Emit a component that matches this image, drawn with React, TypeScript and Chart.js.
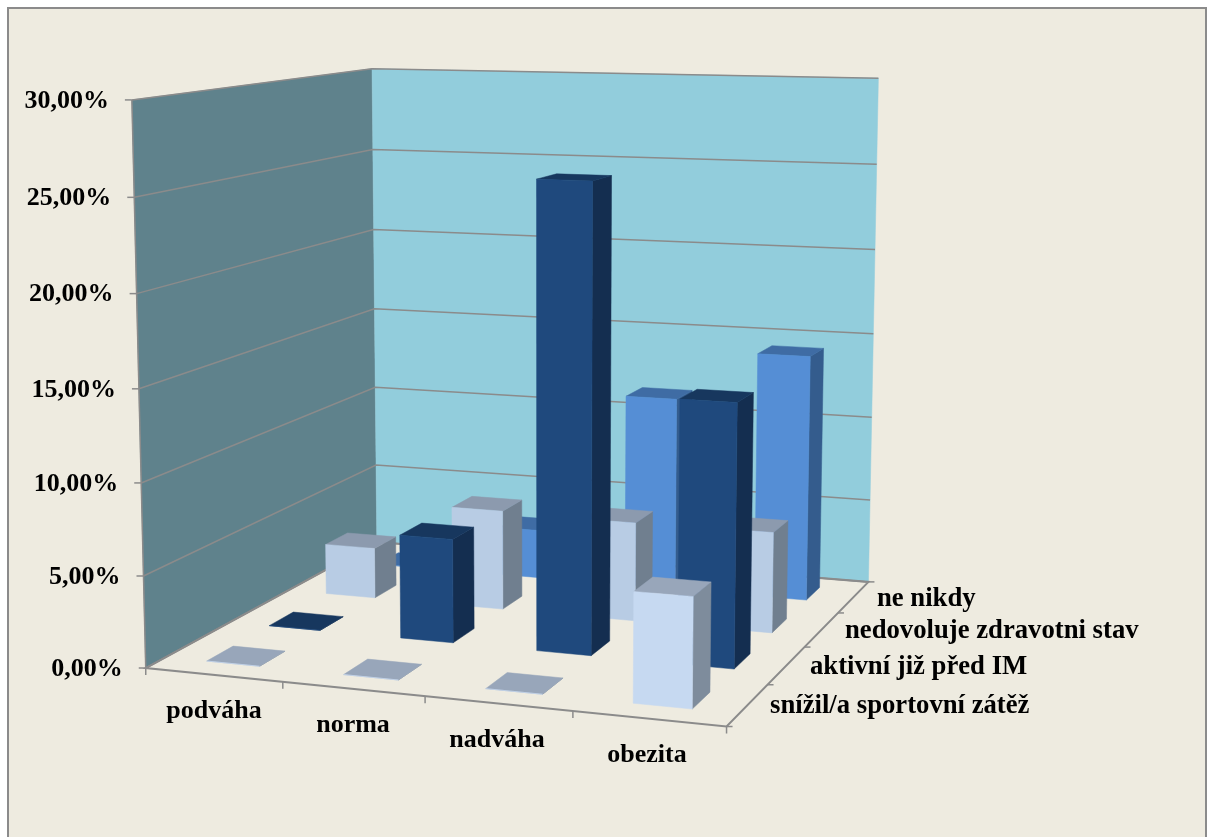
import { useEffect, useRef } from "react";
import { BarController, BarElement, CategoryScale, Chart, LinearScale } from "chart.js";

// Share of respondents (%) per BMI category, one array per depth row, front row first.
const categories = ["podváha", "norma", "nadváha", "obezita"];
const seriesNames = ["snížil/a sportovní zátěž", "aktivní již před IM", "nedovoluje zdravotni stav", "ne nikdy"];
const reducedLoad = [0, 0, 0, 5.8];
const activeBefore = [0, 5.8, 25.6, 14.3];
const healthForbids = [2.95, 5.75, 5.65, 5.7];
const neverActive = [0, 2.9, 11.4, 14.35];
const axisMax = 30;
const axisStep = 5;

// Face shades per row: front, top, side.
const rowShades = [
  ["#c6d9f1", "#98a6ba", "#7e8c9c"],
  ["#1f497d", "#17375e", "#142e50"],
  ["#b8cce4", "#8c9aae", "#707f8f"],
  ["#558ed5", "#3f6ca4", "#345c8d"],
];

const PAPER = "#eeebe0";
const RULE = "#8b8b8b";
const SIDE_WALL = "#5f828c";
const BACK_WALL = "#92cddc";
const FONT = "bold 26px 'Liberation Serif'";
const SERIES_FONT = "bold 26.7px 'Liberation Serif'";

const categoryLabelSpots = [
  [214, 718],
  [353, 732],
  [497, 747],
  [647, 762],
];
const seriesLabelSpots = [
  [770, 713],
  [810, 674],
  [845, 638],
  [877, 606],
];

// Reference points of the perspective camera: [column, row, height 0..1, screen x, screen y].
const cameraAnchors = [
  [0, 0, 0, 147, 667],
  [1, 0, 0, 283, 683],
  [2, 0, 0, 424, 697],
  [3, 0, 0, 571, 712],
  [4, 0, 0, 724, 728],
  [4, 1, 0, 770, 683],
  [4, 2, 0, 807, 646],
  [4, 3, 0, 840, 612],
  [4, 4, 0, 867, 581],
  [0, 4, 0, 377, 544],
  [0, 0, 1, 132, 100],
  [0, 4, 1, 372, 68.5],
  [4, 4, 1, 879, 78],
  [4, 4, 5 / 6, 877, 165],
  [4, 4, 2 / 3, 875, 250],
  [4, 4, 1 / 2, 873, 334],
  [4, 4, 1 / 3, 871, 418],
  [4, 4, 1 / 6, 869, 500],
  [0, 4, 5 / 6, 372.5, 149],
  [0, 4, 2 / 3, 373, 229],
  [0, 4, 1 / 6, 376.5, 465],
  [0, 0, 5 / 6, 135, 198],
  [0, 0, 1 / 3, 141, 482],
  [0, 0, 1 / 6, 143, 575],
];

function solveCamera(anchors: number[][]) {
  const n = 11;
  const ata = Array.from({ length: n }, () => new Array(n + 1).fill(0));
  const addRow = (row: number[], rhs: number) => {
    for (let i = 0; i < n; i++) {
      for (let j = 0; j < n; j++) ata[i][j] += row[i] * row[j];
      ata[i][n] += row[i] * rhs;
    }
  };
  for (const [u, v, h, px, py] of anchors) {
    const x = px / 1000;
    const y = py / 1000;
    addRow([u, v, h, 1, 0, 0, 0, 0, -x * u, -x * v, -x * h], x);
    addRow([0, 0, 0, 0, u, v, h, 1, -y * u, -y * v, -y * h], y);
  }
  for (let c = 0; c < n; c++) {
    let best = c;
    for (let r = c + 1; r < n; r++) if (Math.abs(ata[r][c]) > Math.abs(ata[best][c])) best = r;
    [ata[c], ata[best]] = [ata[best], ata[c]];
    for (let r = 0; r < n; r++) {
      if (r === c) continue;
      const f = ata[r][c] / ata[c][c];
      for (let k = c; k <= n; k++) ata[r][k] -= f * ata[c][k];
    }
  }
  return ata.map((row, i) => row[n] / row[i]);
}

const cam = solveCamera(cameraAnchors);

function project(u: number, v: number, h: number): [number, number] {
  const w = cam[8] * u + cam[9] * v + cam[10] * h + 1;
  return [
    (1000 * (cam[0] * u + cam[1] * v + cam[2] * h + cam[3])) / w,
    (1000 * (cam[4] * u + cam[5] * v + cam[6] * h + cam[7])) / w,
  ];
}

// Fraction of the value axis that a value reaches.
function heightOf(scale: any, value: number) {
  return (scale.bottom - scale.getPixelForValue(value)) / (scale.bottom - scale.top);
}

function fillQuad(ctx: CanvasRenderingContext2D, pts: [number, number][], color: string) {
  ctx.beginPath();
  pts.forEach(([x, y], i) => (i ? ctx.lineTo(x, y) : ctx.moveTo(x, y)));
  ctx.closePath();
  ctx.fillStyle = color;
  ctx.strokeStyle = color;
  ctx.lineWidth = 0.5;
  ctx.fill();
  ctx.stroke();
}

function strokeLine(ctx: CanvasRenderingContext2D, pts: [number, number][], width = 1.5) {
  ctx.beginPath();
  pts.forEach(([x, y], i) => (i ? ctx.lineTo(x, y) : ctx.moveTo(x, y)));
  ctx.strokeStyle = RULE;
  ctx.lineWidth = width;
  ctx.stroke();
}

const BAR_HALF_WIDTH = 0.195;
const BAR_HALF_DEPTH = 0.205;

// Bar controller that renders each value as a cuboid standing on the perspective floor.
class Cuboid3DController extends BarController {
  static id = "cuboid3d";
  static defaults = { ...BarController.defaults };
  static overrides = BarController.overrides;

  draw() {
    const chart = this.chart;
    const ctx = chart.ctx;
    const meta = this._cachedMeta;
    const xScale = chart.scales.x;
    const yScale = chart.scales.y as any;
    const row = this.index + 0.5;
    const [front, top, side] = rowShades[this.index];
    meta.data.forEach((_: unknown, i: number) => {
      const parsed = meta._parsed[i] as { x: number; y: number };
      const col = (categories.length * (xScale.getPixelForValue(parsed.x) - xScale.left)) / xScale.width;
      const h = heightOf(yScale, parsed.y);
      const u0 = col - BAR_HALF_WIDTH;
      const u1 = col + BAR_HALF_WIDTH;
      const v0 = row - BAR_HALF_DEPTH;
      const v1 = row + BAR_HALF_DEPTH;
      ctx.save();
      fillQuad(ctx, [project(u1, v0, 0), project(u1, v1, 0), project(u1, v1, h), project(u1, v0, h)], side);
      fillQuad(ctx, [project(u0, v0, h), project(u1, v0, h), project(u1, v1, h), project(u0, v1, h)], top);
      fillQuad(ctx, [project(u0, v0, 0), project(u1, v0, 0), project(u1, v0, h), project(u0, v0, h)], front);
      ctx.restore();
    });
  }
}

const roomPlugin = {
  id: "room",
  beforeDatasetsDraw(chart: any) {
    const ctx: CanvasRenderingContext2D = chart.ctx;
    const y = chart.scales.y;
    const nCols = categories.length;
    const nRows = seriesNames.length;
    ctx.save();

    // Page panel with its thin frame.
    ctx.fillStyle = PAPER;
    ctx.fillRect(8, 8, 1198, 840);
    ctx.strokeStyle = RULE;
    ctx.lineWidth = 2;
    ctx.strokeRect(8, 8, 1198, 840);

    // Walls.
    fillQuad(ctx, [project(0, 0, 0), project(0, nRows, 0), project(0, nRows, 1), project(0, 0, 1)], SIDE_WALL);
    fillQuad(ctx, [project(0, nRows, 0), project(nCols, nRows, 0), project(nCols, nRows, 1), project(0, nRows, 1)], BACK_WALL);

    // Grid lines that run round both walls, with the value labels at the front edge.
    ctx.font = FONT;
    ctx.textAlign = "right";
    ctx.textBaseline = "middle";
    for (const tick of y.ticks) {
      const h = heightOf(y, tick.value);
      strokeLine(ctx, [project(0, 0, h), project(0, nRows, h), project(nCols, nRows, h)]);
      const [tx, ty] = project(0, 0, h);
      strokeLine(ctx, [[tx - 7, ty], [tx, ty]]);
      ctx.fillStyle = "#000";
      ctx.fillText(tick.label, tx - 23, ty + 1);
    }
    strokeLine(ctx, [project(0, 0, 1), project(0, 0, 0)]);

    // Floor edges and their tick marks.
    strokeLine(ctx, [project(0, nRows, 0), project(0, 0, 0), project(nCols, 0, 0), project(nCols, nRows, 0), project(0, nRows, 0)], 2);
    for (let c = 0; c <= nCols; c++) {
      const [px, py] = project(c, 0, 0);
      strokeLine(ctx, [[px, py], [px, py + 7]]);
    }
    for (let r = 0; r <= nRows; r++) {
      const [px, py] = project(nCols, r, 0);
      strokeLine(ctx, [[px, py], [px + 6, py]]);
    }

    // Axis captions.
    ctx.fillStyle = "#000";
    ctx.textBaseline = "alphabetic";
    ctx.textAlign = "center";
    categories.forEach((name, i) => ctx.fillText(name, categoryLabelSpots[i][0], categoryLabelSpots[i][1]));
    ctx.textAlign = "left";
    ctx.font = SERIES_FONT;
    seriesNames.forEach((name, i) => ctx.fillText(name, seriesLabelSpots[i][0], seriesLabelSpots[i][1]));
    ctx.restore();
  },
};

Chart.register(BarElement, CategoryScale, LinearScale, Cuboid3DController);

export default function App() {
  const ref = useRef<HTMLCanvasElement>(null);
  useEffect(() => {
    const series = [reducedLoad, activeBefore, healthForbids, neverActive];
    const chart = new Chart(ref.current!, {
      type: "cuboid3d" as any,
      data: {
        labels: categories,
        datasets: series.map((data, i) => ({ label: seriesNames[i], data, clip: false as any })),
      },
      plugins: [roomPlugin],
      options: {
        animation: false,
        responsive: false,
        events: [],
        layout: { padding: { top: 100, bottom: 170, left: 132, right: 300 } },
        scales: {
          x: { type: "category", display: false, offset: true },
          y: {
            type: "linear",
            display: false,
            min: 0,
            max: axisMax,
            ticks: {
              stepSize: axisStep,
              callback: (v: any) => `${Number(v).toFixed(2).replace(".", ",")}%`,
            },
          },
        },
      } as any,
    });
    return () => chart.destroy();
  }, []);
  return (
    <canvas
      ref={ref}
      width={1208}
      height={837}
      style={{ position: "absolute", left: 0, top: 0, display: "block" }}
    />
  );
}
